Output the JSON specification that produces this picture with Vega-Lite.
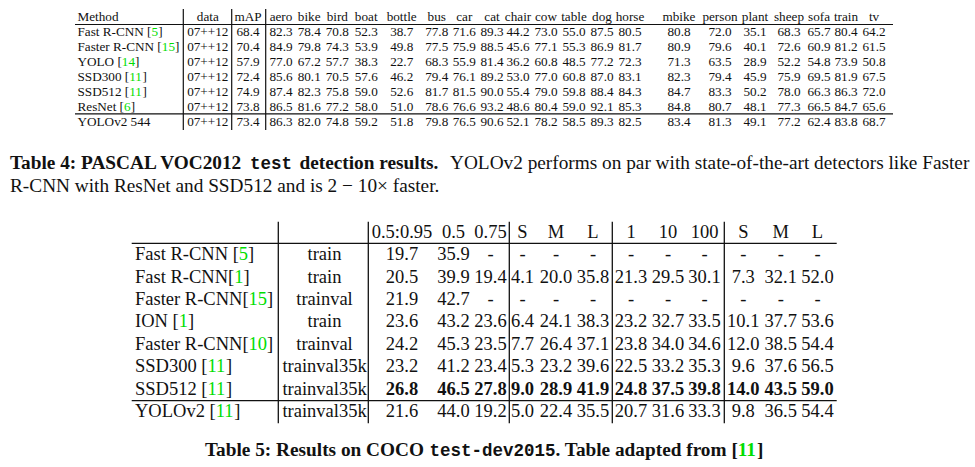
{
"$schema": "https://vega.github.io/schema/vega-lite/v6.json",
"width": 975, "height": 467, "padding": 0, "autosize": {"type": "none"},
"background": "white",
"config": {"view": {"stroke": null}},
"datasets": {
"t4": [
{"r":0,"c":0,"t":"Method"},{"r":0,"c":1,"t":"data"},{"r":0,"c":2,"t":"mAP"},{"r":0,"c":3,"t":"aero"},{"r":0,"c":4,"t":"bike"},{"r":0,"c":5,"t":"bird"},{"r":0,"c":6,"t":"boat"},{"r":0,"c":7,"t":"bottle"},{"r":0,"c":8,"t":"bus"},{"r":0,"c":9,"t":"car"},{"r":0,"c":10,"t":"cat"},{"r":0,"c":11,"t":"chair"},{"r":0,"c":12,"t":"cow"},{"r":0,"c":13,"t":"table"},{"r":0,"c":14,"t":"dog"},{"r":0,"c":15,"t":"horse"},{"r":0,"c":16,"t":"mbike"},{"r":0,"c":17,"t":"person"},{"r":0,"c":18,"t":"plant"},{"r":0,"c":19,"t":"sheep"},{"r":0,"c":20,"t":"sofa"},{"r":0,"c":21,"t":"train"},{"r":0,"c":22,"t":"tv"},
{"r":1,"c":0,"t":"Fast R-CNN [5]"},{"r":1,"c":1,"t":"07++12"},{"r":1,"c":2,"t":"68.4"},{"r":1,"c":3,"t":"82.3"},{"r":1,"c":4,"t":"78.4"},{"r":1,"c":5,"t":"70.8"},{"r":1,"c":6,"t":"52.3"},{"r":1,"c":7,"t":"38.7"},{"r":1,"c":8,"t":"77.8"},{"r":1,"c":9,"t":"71.6"},{"r":1,"c":10,"t":"89.3"},{"r":1,"c":11,"t":"44.2"},{"r":1,"c":12,"t":"73.0"},{"r":1,"c":13,"t":"55.0"},{"r":1,"c":14,"t":"87.5"},{"r":1,"c":15,"t":"80.5"},{"r":1,"c":16,"t":"80.8"},{"r":1,"c":17,"t":"72.0"},{"r":1,"c":18,"t":"35.1"},{"r":1,"c":19,"t":"68.3"},{"r":1,"c":20,"t":"65.7"},{"r":1,"c":21,"t":"80.4"},{"r":1,"c":22,"t":"64.2"},
{"r":2,"c":0,"t":"Faster R-CNN [15]"},{"r":2,"c":1,"t":"07++12"},{"r":2,"c":2,"t":"70.4"},{"r":2,"c":3,"t":"84.9"},{"r":2,"c":4,"t":"79.8"},{"r":2,"c":5,"t":"74.3"},{"r":2,"c":6,"t":"53.9"},{"r":2,"c":7,"t":"49.8"},{"r":2,"c":8,"t":"77.5"},{"r":2,"c":9,"t":"75.9"},{"r":2,"c":10,"t":"88.5"},{"r":2,"c":11,"t":"45.6"},{"r":2,"c":12,"t":"77.1"},{"r":2,"c":13,"t":"55.3"},{"r":2,"c":14,"t":"86.9"},{"r":2,"c":15,"t":"81.7"},{"r":2,"c":16,"t":"80.9"},{"r":2,"c":17,"t":"79.6"},{"r":2,"c":18,"t":"40.1"},{"r":2,"c":19,"t":"72.6"},{"r":2,"c":20,"t":"60.9"},{"r":2,"c":21,"t":"81.2"},{"r":2,"c":22,"t":"61.5"},
{"r":3,"c":0,"t":"YOLO [14]"},{"r":3,"c":1,"t":"07++12"},{"r":3,"c":2,"t":"57.9"},{"r":3,"c":3,"t":"77.0"},{"r":3,"c":4,"t":"67.2"},{"r":3,"c":5,"t":"57.7"},{"r":3,"c":6,"t":"38.3"},{"r":3,"c":7,"t":"22.7"},{"r":3,"c":8,"t":"68.3"},{"r":3,"c":9,"t":"55.9"},{"r":3,"c":10,"t":"81.4"},{"r":3,"c":11,"t":"36.2"},{"r":3,"c":12,"t":"60.8"},{"r":3,"c":13,"t":"48.5"},{"r":3,"c":14,"t":"77.2"},{"r":3,"c":15,"t":"72.3"},{"r":3,"c":16,"t":"71.3"},{"r":3,"c":17,"t":"63.5"},{"r":3,"c":18,"t":"28.9"},{"r":3,"c":19,"t":"52.2"},{"r":3,"c":20,"t":"54.8"},{"r":3,"c":21,"t":"73.9"},{"r":3,"c":22,"t":"50.8"},
{"r":4,"c":0,"t":"SSD300 [11]"},{"r":4,"c":1,"t":"07++12"},{"r":4,"c":2,"t":"72.4"},{"r":4,"c":3,"t":"85.6"},{"r":4,"c":4,"t":"80.1"},{"r":4,"c":5,"t":"70.5"},{"r":4,"c":6,"t":"57.6"},{"r":4,"c":7,"t":"46.2"},{"r":4,"c":8,"t":"79.4"},{"r":4,"c":9,"t":"76.1"},{"r":4,"c":10,"t":"89.2"},{"r":4,"c":11,"t":"53.0"},{"r":4,"c":12,"t":"77.0"},{"r":4,"c":13,"t":"60.8"},{"r":4,"c":14,"t":"87.0"},{"r":4,"c":15,"t":"83.1"},{"r":4,"c":16,"t":"82.3"},{"r":4,"c":17,"t":"79.4"},{"r":4,"c":18,"t":"45.9"},{"r":4,"c":19,"t":"75.9"},{"r":4,"c":20,"t":"69.5"},{"r":4,"c":21,"t":"81.9"},{"r":4,"c":22,"t":"67.5"},
{"r":5,"c":0,"t":"SSD512 [11]"},{"r":5,"c":1,"t":"07++12"},{"r":5,"c":2,"t":"74.9"},{"r":5,"c":3,"t":"87.4"},{"r":5,"c":4,"t":"82.3"},{"r":5,"c":5,"t":"75.8"},{"r":5,"c":6,"t":"59.0"},{"r":5,"c":7,"t":"52.6"},{"r":5,"c":8,"t":"81.7"},{"r":5,"c":9,"t":"81.5"},{"r":5,"c":10,"t":"90.0"},{"r":5,"c":11,"t":"55.4"},{"r":5,"c":12,"t":"79.0"},{"r":5,"c":13,"t":"59.8"},{"r":5,"c":14,"t":"88.4"},{"r":5,"c":15,"t":"84.3"},{"r":5,"c":16,"t":"84.7"},{"r":5,"c":17,"t":"83.3"},{"r":5,"c":18,"t":"50.2"},{"r":5,"c":19,"t":"78.0"},{"r":5,"c":20,"t":"66.3"},{"r":5,"c":21,"t":"86.3"},{"r":5,"c":22,"t":"72.0"},
{"r":6,"c":0,"t":"ResNet [6]"},{"r":6,"c":1,"t":"07++12"},{"r":6,"c":2,"t":"73.8"},{"r":6,"c":3,"t":"86.5"},{"r":6,"c":4,"t":"81.6"},{"r":6,"c":5,"t":"77.2"},{"r":6,"c":6,"t":"58.0"},{"r":6,"c":7,"t":"51.0"},{"r":6,"c":8,"t":"78.6"},{"r":6,"c":9,"t":"76.6"},{"r":6,"c":10,"t":"93.2"},{"r":6,"c":11,"t":"48.6"},{"r":6,"c":12,"t":"80.4"},{"r":6,"c":13,"t":"59.0"},{"r":6,"c":14,"t":"92.1"},{"r":6,"c":15,"t":"85.3"},{"r":6,"c":16,"t":"84.8"},{"r":6,"c":17,"t":"80.7"},{"r":6,"c":18,"t":"48.1"},{"r":6,"c":19,"t":"77.3"},{"r":6,"c":20,"t":"66.5"},{"r":6,"c":21,"t":"84.7"},{"r":6,"c":22,"t":"65.6"},
{"r":7,"c":0,"t":"YOLOv2 544"},{"r":7,"c":1,"t":"07++12"},{"r":7,"c":2,"t":"73.4"},{"r":7,"c":3,"t":"86.3"},{"r":7,"c":4,"t":"82.0"},{"r":7,"c":5,"t":"74.8"},{"r":7,"c":6,"t":"59.2"},{"r":7,"c":7,"t":"51.8"},{"r":7,"c":8,"t":"79.8"},{"r":7,"c":9,"t":"76.5"},{"r":7,"c":10,"t":"90.6"},{"r":7,"c":11,"t":"52.1"},{"r":7,"c":12,"t":"78.2"},{"r":7,"c":13,"t":"58.5"},{"r":7,"c":14,"t":"89.3"},{"r":7,"c":15,"t":"82.5"},{"r":7,"c":16,"t":"83.4"},{"r":7,"c":17,"t":"81.3"},{"r":7,"c":18,"t":"49.1"},{"r":7,"c":19,"t":"77.2"},{"r":7,"c":20,"t":"62.4"},{"r":7,"c":21,"t":"83.8"},{"r":7,"c":22,"t":"68.7"}
],
"t4rules": [
{"x":-0.5,"x2":22.5,"y":0.5,"y2":0.5},{"x":-0.5,"x2":22.5,"y":6.5,"y2":6.5},
{"x":0.5,"x2":0.5,"y":-0.5,"y2":7.5},{"x":1.5,"x2":1.5,"y":-0.5,"y2":7.5},{"x":2.5,"x2":2.5,"y":-0.5,"y2":7.5}
],
"t5": [
{"r":0,"c":2,"t":"0.5:0.95"},{"r":0,"c":3,"t":"0.5"},{"r":0,"c":4,"t":"0.75"},{"r":0,"c":5,"t":"S"},{"r":0,"c":6,"t":"M"},{"r":0,"c":7,"t":"L"},{"r":0,"c":8,"t":"1"},{"r":0,"c":9,"t":"10"},{"r":0,"c":10,"t":"100"},{"r":0,"c":11,"t":"S"},{"r":0,"c":12,"t":"M"},{"r":0,"c":13,"t":"L"},
{"r":1,"c":0,"t":"Fast R-CNN [5]"},{"r":1,"c":1,"t":"train"},{"r":1,"c":2,"t":"19.7"},{"r":1,"c":3,"t":"35.9"},{"r":1,"c":4,"t":"-"},{"r":1,"c":5,"t":"-"},{"r":1,"c":6,"t":"-"},{"r":1,"c":7,"t":"-"},{"r":1,"c":8,"t":"-"},{"r":1,"c":9,"t":"-"},{"r":1,"c":10,"t":"-"},{"r":1,"c":11,"t":"-"},{"r":1,"c":12,"t":"-"},{"r":1,"c":13,"t":"-"},
{"r":2,"c":0,"t":"Fast R-CNN[1]"},{"r":2,"c":1,"t":"train"},{"r":2,"c":2,"t":"20.5"},{"r":2,"c":3,"t":"39.9"},{"r":2,"c":4,"t":"19.4"},{"r":2,"c":5,"t":"4.1"},{"r":2,"c":6,"t":"20.0"},{"r":2,"c":7,"t":"35.8"},{"r":2,"c":8,"t":"21.3"},{"r":2,"c":9,"t":"29.5"},{"r":2,"c":10,"t":"30.1"},{"r":2,"c":11,"t":"7.3"},{"r":2,"c":12,"t":"32.1"},{"r":2,"c":13,"t":"52.0"},
{"r":3,"c":0,"t":"Faster R-CNN[15]"},{"r":3,"c":1,"t":"trainval"},{"r":3,"c":2,"t":"21.9"},{"r":3,"c":3,"t":"42.7"},{"r":3,"c":4,"t":"-"},{"r":3,"c":5,"t":"-"},{"r":3,"c":6,"t":"-"},{"r":3,"c":7,"t":"-"},{"r":3,"c":8,"t":"-"},{"r":3,"c":9,"t":"-"},{"r":3,"c":10,"t":"-"},{"r":3,"c":11,"t":"-"},{"r":3,"c":12,"t":"-"},{"r":3,"c":13,"t":"-"},
{"r":4,"c":0,"t":"ION [1]"},{"r":4,"c":1,"t":"train"},{"r":4,"c":2,"t":"23.6"},{"r":4,"c":3,"t":"43.2"},{"r":4,"c":4,"t":"23.6"},{"r":4,"c":5,"t":"6.4"},{"r":4,"c":6,"t":"24.1"},{"r":4,"c":7,"t":"38.3"},{"r":4,"c":8,"t":"23.2"},{"r":4,"c":9,"t":"32.7"},{"r":4,"c":10,"t":"33.5"},{"r":4,"c":11,"t":"10.1"},{"r":4,"c":12,"t":"37.7"},{"r":4,"c":13,"t":"53.6"},
{"r":5,"c":0,"t":"Faster R-CNN[10]"},{"r":5,"c":1,"t":"trainval"},{"r":5,"c":2,"t":"24.2"},{"r":5,"c":3,"t":"45.3"},{"r":5,"c":4,"t":"23.5"},{"r":5,"c":5,"t":"7.7"},{"r":5,"c":6,"t":"26.4"},{"r":5,"c":7,"t":"37.1"},{"r":5,"c":8,"t":"23.8"},{"r":5,"c":9,"t":"34.0"},{"r":5,"c":10,"t":"34.6"},{"r":5,"c":11,"t":"12.0"},{"r":5,"c":12,"t":"38.5"},{"r":5,"c":13,"t":"54.4"},
{"r":6,"c":0,"t":"SSD300 [11]"},{"r":6,"c":1,"t":"trainval35k"},{"r":6,"c":2,"t":"23.2"},{"r":6,"c":3,"t":"41.2"},{"r":6,"c":4,"t":"23.4"},{"r":6,"c":5,"t":"5.3"},{"r":6,"c":6,"t":"23.2"},{"r":6,"c":7,"t":"39.6"},{"r":6,"c":8,"t":"22.5"},{"r":6,"c":9,"t":"33.2"},{"r":6,"c":10,"t":"35.3"},{"r":6,"c":11,"t":"9.6"},{"r":6,"c":12,"t":"37.6"},{"r":6,"c":13,"t":"56.5"},
{"r":7,"c":0,"t":"SSD512 [11]"},{"r":7,"c":1,"t":"trainval35k"},{"r":7,"c":2,"t":"26.8","best":true},{"r":7,"c":3,"t":"46.5","best":true},{"r":7,"c":4,"t":"27.8","best":true},{"r":7,"c":5,"t":"9.0","best":true},{"r":7,"c":6,"t":"28.9","best":true},{"r":7,"c":7,"t":"41.9","best":true},{"r":7,"c":8,"t":"24.8","best":true},{"r":7,"c":9,"t":"37.5","best":true},{"r":7,"c":10,"t":"39.8","best":true},{"r":7,"c":11,"t":"14.0","best":true},{"r":7,"c":12,"t":"43.5","best":true},{"r":7,"c":13,"t":"59.0","best":true},
{"r":8,"c":0,"t":"YOLOv2 [11]"},{"r":8,"c":1,"t":"trainval35k"},{"r":8,"c":2,"t":"21.6"},{"r":8,"c":3,"t":"44.0"},{"r":8,"c":4,"t":"19.2"},{"r":8,"c":5,"t":"5.0"},{"r":8,"c":6,"t":"22.4"},{"r":8,"c":7,"t":"35.5"},{"r":8,"c":8,"t":"20.7"},{"r":8,"c":9,"t":"31.6"},{"r":8,"c":10,"t":"33.3"},{"r":8,"c":11,"t":"9.8"},{"r":8,"c":12,"t":"36.5"},{"r":8,"c":13,"t":"54.4"}
],
"t5rules": [
{"x":-0.5,"x2":13.5,"y":0.5,"y2":0.5},{"x":-0.5,"x2":13.5,"y":7.5,"y2":7.5},
{"x":0.5,"x2":0.5,"y":-0.5,"y2":8.5},{"x":1.5,"x2":1.5,"y":-0.5,"y2":8.5},{"x":4.5,"x2":4.5,"y":-0.5,"y2":8.5},{"x":7.5,"x2":7.5,"y":-0.5,"y2":8.5},{"x":10.5,"x2":10.5,"y":-0.5,"y2":8.5}
],
"cap": [
{"line":0,"seg":0,"part":"title","t":"Table 4: PASCAL VOC2012"},
{"line":0,"seg":1,"part":"code","t":"test"},
{"line":0,"seg":2,"part":"title","t":"detection results."},
{"line":0,"seg":3,"part":"body","t":"YOLOv2 performs on par with state-of-the-art detectors like Faster"},
{"line":1,"seg":4,"part":"body","t":"R-CNN with ResNet and SSD512 and is 2 − 10× faster."},
{"line":2,"seg":5,"part":"title","t":"Table 5: Results on COCO"},
{"line":2,"seg":6,"part":"code","t":"test-dev2015"},
{"line":2,"seg":7,"part":"title","t":". Table adapted from [11]"}
]
},
"resolve": {"scale": {"x": "independent", "y": "independent"}},
"layer": [
{
"data": {"name": "t4"},
"layer": [
{"data": {"name": "t4rules"}, "mark": {"type": "rule", "color": "#111", "strokeWidth": 1.2},
 "encoding": {
 "x": {"field": "x", "type": "quantitative", "axis": null, "scale": {"domain": [-0.5,0,0.5,1,1.5,2,2.5,3,4,5,6,7,8,9,10,11,12,13,14,15,16,17,18,19,20,21,22,22.5], "range": [75,77.5,183.3,207.8,231.7,248,265.7,281,309.2,337.3,366.2,401.7,436.7,464.3,492,518,546,574,602,630,679,720,755,789,819,846,874,893], "nice": false, "zero": false}},
 "x2": {"field": "x2"},
 "y": {"field": "y", "type": "quantitative", "axis": null, "scale": {"domain": [-0.5,0,0.5,1,6,6.5,7,7.5], "range": [9,20.5,24.5,35.6,110.8,113.8,125.6,130], "nice": false, "zero": false}},
 "y2": {"field": "y2"}}},
{"transform": [{"filter": "datum.c == 0 && indexof(datum.t, '[') < 0"}],
 "mark": {"type": "text", "align": "left", "baseline": "alphabetic", "font": "Liberation Serif", "fontSize": 13.2, "color": "#111"},
 "encoding": {
 "x": {"field": "c", "type": "quantitative", "axis": null, "scale": {"domain": [-0.5,0,0.5,1,1.5,2,2.5,3,4,5,6,7,8,9,10,11,12,13,14,15,16,17,18,19,20,21,22,22.5], "range": [75,77.5,183.3,207.8,231.7,248,265.7,281,309.2,337.3,366.2,401.7,436.7,464.3,492,518,546,574,602,630,679,720,755,789,819,846,874,893], "nice": false, "zero": false}},
 "y": {"field": "r", "type": "quantitative", "axis": null, "scale": {"domain": [-0.5,0,0.5,1,6,6.5,7,7.5], "range": [9,20.5,24.5,35.6,110.8,113.8,125.6,130], "nice": false, "zero": false}},
 "text": {"field": "t"}}},
{"transform": [{"filter": "datum.c == 0 && indexof(datum.t, '[') >= 0"}, {"calculate": "slice(datum.t, 0, indexof(datum.t, '[') + 1)", "as": "pre"}],
 "mark": {"type": "text", "align": "left", "baseline": "alphabetic", "font": "Liberation Serif", "fontSize": 13.2, "color": "#111"},
 "encoding": {
 "x": {"field": "c", "type": "quantitative", "axis": null, "scale": {"domain": [-0.5,0,0.5,1,1.5,2,2.5,3,4,5,6,7,8,9,10,11,12,13,14,15,16,17,18,19,20,21,22,22.5], "range": [75,77.5,183.3,207.8,231.7,248,265.7,281,309.2,337.3,366.2,401.7,436.7,464.3,492,518,546,574,602,630,679,720,755,789,819,846,874,893], "nice": false, "zero": false}},
 "y": {"field": "r", "type": "quantitative", "axis": null, "scale": {"domain": [-0.5,0,0.5,1,6,6.5,7,7.5], "range": [9,20.5,24.5,35.6,110.8,113.8,125.6,130], "nice": false, "zero": false}},
 "text": {"field": "pre"}}},
{"transform": [{"filter": "datum.c == 0 && indexof(datum.t, '[') >= 0"}, {"calculate": "slice(datum.t, 0, indexof(datum.t, '[') + 1)", "as": "pre"}, {"calculate": "slice(datum.t, indexof(datum.t, '[') + 1, length(datum.t) - 1)", "as": "ref"}, {"calculate": "split(datum.pre, '')", "as": "chars"}, {"flatten": ["chars"], "as": ["ch"]}, {"calculate": "[250,333,333,333,250,278,500,500,500,500,500,500,500,500,500,500,722,667,667,722,611,556,722,722,333,389,722,611,889,722,722,556,722,667,556,611,722,722,944,722,722,611,444,500,444,500,444,333,500,500,278,278,500,278,778,500,500,500,500,333,389,278,500,500,722,500,500,444][indexof(' -[].:0123456789ABCDEFGHIJKLMNOPQRSTUVWXYZabcdefghijklmnopqrstuvwxyz', datum.ch)]", "as": "w"}, {"aggregate": [{"op": "sum", "field": "w", "as": "pw"}], "groupby": ["r", "c", "ref"]}],
 "mark": {"type": "text", "align": "left", "baseline": "alphabetic", "font": "Liberation Serif", "fontSize": 13.2, "color": "#00dd00", "dx": {"expr": "datum.pw * 13.2 / 1000"}},
 "encoding": {
 "x": {"field": "c", "type": "quantitative", "axis": null, "scale": {"domain": [-0.5,0,0.5,1,1.5,2,2.5,3,4,5,6,7,8,9,10,11,12,13,14,15,16,17,18,19,20,21,22,22.5], "range": [75,77.5,183.3,207.8,231.7,248,265.7,281,309.2,337.3,366.2,401.7,436.7,464.3,492,518,546,574,602,630,679,720,755,789,819,846,874,893], "nice": false, "zero": false}},
 "y": {"field": "r", "type": "quantitative", "axis": null, "scale": {"domain": [-0.5,0,0.5,1,6,6.5,7,7.5], "range": [9,20.5,24.5,35.6,110.8,113.8,125.6,130], "nice": false, "zero": false}},
 "text": {"field": "ref"}}},
{"transform": [{"filter": "datum.c == 0 && indexof(datum.t, '[') >= 0"}, {"calculate": "slice(datum.t, 0, indexof(datum.t, '[') + 1)", "as": "pre"}, {"calculate": "slice(datum.t, indexof(datum.t, '[') + 1, length(datum.t) - 1)", "as": "ref"}, {"calculate": "split(datum.pre, '')", "as": "chars"}, {"flatten": ["chars"], "as": ["ch"]}, {"calculate": "[250,333,333,333,250,278,500,500,500,500,500,500,500,500,500,500,722,667,667,722,611,556,722,722,333,389,722,611,889,722,722,556,722,667,556,611,722,722,944,722,722,611,444,500,444,500,444,333,500,500,278,278,500,278,778,500,500,500,500,333,389,278,500,500,722,500,500,444][indexof(' -[].:0123456789ABCDEFGHIJKLMNOPQRSTUVWXYZabcdefghijklmnopqrstuvwxyz', datum.ch)]", "as": "w"}, {"aggregate": [{"op": "sum", "field": "w", "as": "pw"}], "groupby": ["r", "c", "ref"]}],
 "mark": {"type": "text", "align": "left", "baseline": "alphabetic", "font": "Liberation Serif", "fontSize": 13.2, "color": "#111", "dx": {"expr": "(datum.pw + 500 * length(datum.ref)) * 13.2 / 1000"}},
 "encoding": {
 "x": {"field": "c", "type": "quantitative", "axis": null, "scale": {"domain": [-0.5,0,0.5,1,1.5,2,2.5,3,4,5,6,7,8,9,10,11,12,13,14,15,16,17,18,19,20,21,22,22.5], "range": [75,77.5,183.3,207.8,231.7,248,265.7,281,309.2,337.3,366.2,401.7,436.7,464.3,492,518,546,574,602,630,679,720,755,789,819,846,874,893], "nice": false, "zero": false}},
 "y": {"field": "r", "type": "quantitative", "axis": null, "scale": {"domain": [-0.5,0,0.5,1,6,6.5,7,7.5], "range": [9,20.5,24.5,35.6,110.8,113.8,125.6,130], "nice": false, "zero": false}},
 "text": {"value": "]"}}},
{"transform": [{"filter": "datum.c > 0"}],
 "mark": {"type": "text", "align": "center", "baseline": "alphabetic", "font": "Liberation Serif", "fontSize": 13.2, "color": "#111"},
 "encoding": {
 "x": {"field": "c", "type": "quantitative", "axis": null, "scale": {"domain": [-0.5,0,0.5,1,1.5,2,2.5,3,4,5,6,7,8,9,10,11,12,13,14,15,16,17,18,19,20,21,22,22.5], "range": [75,77.5,183.3,207.8,231.7,248,265.7,281,309.2,337.3,366.2,401.7,436.7,464.3,492,518,546,574,602,630,679,720,755,789,819,846,874,893], "nice": false, "zero": false}},
 "y": {"field": "r", "type": "quantitative", "axis": null, "scale": {"domain": [-0.5,0,0.5,1,6,6.5,7,7.5], "range": [9,20.5,24.5,35.6,110.8,113.8,125.6,130], "nice": false, "zero": false}},
 "text": {"field": "t"}}}
]
},
{
"data": {"name": "t5"},
"layer": [
{"data": {"name": "t5rules"}, "mark": {"type": "rule", "color": "#111", "strokeWidth": 1.3},
 "encoding": {
 "x": {"field": "x", "type": "quantitative", "axis": null, "scale": {"domain": [-0.5,0,0.5,1,1.5,2,3,4,4.5,5,6,7,7.5,8,9,10,10.5,11,12,13,13.5], "range": [131.7,135,278.3,324.5,368.3,402,453.5,490.5,509.3,522.5,556,593,612.3,631,668,704.5,724.3,743.3,780.8,817.5,836.7], "nice": false, "zero": false}},
 "x2": {"field": "x2"},
 "y": {"field": "y", "type": "quantitative", "axis": null, "scale": {"domain": [-0.5,0,0.5,1,7,7.5,8,8.5], "range": [221.7,238,243.3,260.4,394.5,400.7,416.8,423.3], "nice": false, "zero": false}},
 "y2": {"field": "y2"}}},
{"transform": [{"filter": "datum.c == 0 && indexof(datum.t, '[') >= 0"}, {"calculate": "slice(datum.t, 0, indexof(datum.t, '[') + 1)", "as": "pre"}],
 "mark": {"type": "text", "align": "left", "baseline": "alphabetic", "font": "Liberation Serif", "fontSize": 18.5, "color": "#111"},
 "encoding": {
 "x": {"field": "c", "type": "quantitative", "axis": null, "scale": {"domain": [-0.5,0,0.5,1,1.5,2,3,4,4.5,5,6,7,7.5,8,9,10,10.5,11,12,13,13.5], "range": [131.7,135,278.3,324.5,368.3,402,453.5,490.5,509.3,522.5,556,593,612.3,631,668,704.5,724.3,743.3,780.8,817.5,836.7], "nice": false, "zero": false}},
 "y": {"field": "r", "type": "quantitative", "axis": null, "scale": {"domain": [-0.5,0,0.5,1,7,7.5,8,8.5], "range": [221.7,238,243.3,260.4,394.5,400.7,416.8,423.3], "nice": false, "zero": false}},
 "text": {"field": "pre"}}},
{"transform": [{"filter": "datum.c == 0 && indexof(datum.t, '[') >= 0"}, {"calculate": "slice(datum.t, 0, indexof(datum.t, '[') + 1)", "as": "pre"}, {"calculate": "slice(datum.t, indexof(datum.t, '[') + 1, length(datum.t) - 1)", "as": "ref"}, {"calculate": "split(datum.pre, '')", "as": "chars"}, {"flatten": ["chars"], "as": ["ch"]}, {"calculate": "[250,333,333,333,250,278,500,500,500,500,500,500,500,500,500,500,722,667,667,722,611,556,722,722,333,389,722,611,889,722,722,556,722,667,556,611,722,722,944,722,722,611,444,500,444,500,444,333,500,500,278,278,500,278,778,500,500,500,500,333,389,278,500,500,722,500,500,444][indexof(' -[].:0123456789ABCDEFGHIJKLMNOPQRSTUVWXYZabcdefghijklmnopqrstuvwxyz', datum.ch)]", "as": "w"}, {"aggregate": [{"op": "sum", "field": "w", "as": "pw"}], "groupby": ["r", "c", "ref"]}],
 "mark": {"type": "text", "align": "left", "baseline": "alphabetic", "font": "Liberation Serif", "fontSize": 18.5, "color": "#00dd00", "dx": {"expr": "datum.pw * 18.5 / 1000"}},
 "encoding": {
 "x": {"field": "c", "type": "quantitative", "axis": null, "scale": {"domain": [-0.5,0,0.5,1,1.5,2,3,4,4.5,5,6,7,7.5,8,9,10,10.5,11,12,13,13.5], "range": [131.7,135,278.3,324.5,368.3,402,453.5,490.5,509.3,522.5,556,593,612.3,631,668,704.5,724.3,743.3,780.8,817.5,836.7], "nice": false, "zero": false}},
 "y": {"field": "r", "type": "quantitative", "axis": null, "scale": {"domain": [-0.5,0,0.5,1,7,7.5,8,8.5], "range": [221.7,238,243.3,260.4,394.5,400.7,416.8,423.3], "nice": false, "zero": false}},
 "text": {"field": "ref"}}},
{"transform": [{"filter": "datum.c == 0 && indexof(datum.t, '[') >= 0"}, {"calculate": "slice(datum.t, 0, indexof(datum.t, '[') + 1)", "as": "pre"}, {"calculate": "slice(datum.t, indexof(datum.t, '[') + 1, length(datum.t) - 1)", "as": "ref"}, {"calculate": "split(datum.pre, '')", "as": "chars"}, {"flatten": ["chars"], "as": ["ch"]}, {"calculate": "[250,333,333,333,250,278,500,500,500,500,500,500,500,500,500,500,722,667,667,722,611,556,722,722,333,389,722,611,889,722,722,556,722,667,556,611,722,722,944,722,722,611,444,500,444,500,444,333,500,500,278,278,500,278,778,500,500,500,500,333,389,278,500,500,722,500,500,444][indexof(' -[].:0123456789ABCDEFGHIJKLMNOPQRSTUVWXYZabcdefghijklmnopqrstuvwxyz', datum.ch)]", "as": "w"}, {"aggregate": [{"op": "sum", "field": "w", "as": "pw"}], "groupby": ["r", "c", "ref"]}],
 "mark": {"type": "text", "align": "left", "baseline": "alphabetic", "font": "Liberation Serif", "fontSize": 18.5, "color": "#111", "dx": {"expr": "(datum.pw + 500 * length(datum.ref)) * 18.5 / 1000"}},
 "encoding": {
 "x": {"field": "c", "type": "quantitative", "axis": null, "scale": {"domain": [-0.5,0,0.5,1,1.5,2,3,4,4.5,5,6,7,7.5,8,9,10,10.5,11,12,13,13.5], "range": [131.7,135,278.3,324.5,368.3,402,453.5,490.5,509.3,522.5,556,593,612.3,631,668,704.5,724.3,743.3,780.8,817.5,836.7], "nice": false, "zero": false}},
 "y": {"field": "r", "type": "quantitative", "axis": null, "scale": {"domain": [-0.5,0,0.5,1,7,7.5,8,8.5], "range": [221.7,238,243.3,260.4,394.5,400.7,416.8,423.3], "nice": false, "zero": false}},
 "text": {"value": "]"}}},
{"transform": [{"filter": "datum.c > 0 && !datum.best"}],
 "mark": {"type": "text", "align": "center", "baseline": "alphabetic", "font": "Liberation Serif", "fontSize": 18.5, "color": "#111"},
 "encoding": {
 "x": {"field": "c", "type": "quantitative", "axis": null, "scale": {"domain": [-0.5,0,0.5,1,1.5,2,3,4,4.5,5,6,7,7.5,8,9,10,10.5,11,12,13,13.5], "range": [131.7,135,278.3,324.5,368.3,402,453.5,490.5,509.3,522.5,556,593,612.3,631,668,704.5,724.3,743.3,780.8,817.5,836.7], "nice": false, "zero": false}},
 "y": {"field": "r", "type": "quantitative", "axis": null, "scale": {"domain": [-0.5,0,0.5,1,7,7.5,8,8.5], "range": [221.7,238,243.3,260.4,394.5,400.7,416.8,423.3], "nice": false, "zero": false}},
 "text": {"field": "t"}}},
{"transform": [{"filter": "datum.best"}],
 "mark": {"type": "text", "align": "center", "baseline": "alphabetic", "font": "Liberation Serif", "fontWeight": "bold", "fontSize": 18.5, "color": "#111"},
 "encoding": {
 "x": {"field": "c", "type": "quantitative", "axis": null, "scale": {"domain": [-0.5,0,0.5,1,1.5,2,3,4,4.5,5,6,7,7.5,8,9,10,10.5,11,12,13,13.5], "range": [131.7,135,278.3,324.5,368.3,402,453.5,490.5,509.3,522.5,556,593,612.3,631,668,704.5,724.3,743.3,780.8,817.5,836.7], "nice": false, "zero": false}},
 "y": {"field": "r", "type": "quantitative", "axis": null, "scale": {"domain": [-0.5,0,0.5,1,7,7.5,8,8.5], "range": [221.7,238,243.3,260.4,394.5,400.7,416.8,423.3], "nice": false, "zero": false}},
 "text": {"field": "t"}}}
]
},
{
"data": {"name": "cap"},
"layer": [
{"transform": [{"filter": "datum.part == 'title' && indexof(datum.t, '[') < 0"}],
 "mark": {"type": "text", "align": "left", "baseline": "alphabetic", "font": "Liberation Serif", "fontWeight": "bold", "fontSize": 19.3, "color": "#111"},
 "encoding": {
 "x": {"field": "seg", "type": "quantitative", "axis": null, "scale": {"domain": [0,1,2,3,4,5,6,7], "range": [10,250,299.5,450,10,205,429.5,555.5], "nice": false, "zero": false}},
 "y": {"field": "line", "type": "quantitative", "axis": null, "scale": {"domain": [0,1,2], "range": [169,192,456], "nice": false, "zero": false}},
 "text": {"field": "t"}}},
{"transform": [{"filter": "datum.part == 'title' && indexof(datum.t, '[') >= 0"}, {"calculate": "slice(datum.t, 0, indexof(datum.t, '[') + 1)", "as": "pre"}],
 "mark": {"type": "text", "align": "left", "baseline": "alphabetic", "font": "Liberation Serif", "fontWeight": "bold", "fontSize": 19.3, "color": "#111"},
 "encoding": {
 "x": {"field": "seg", "type": "quantitative", "axis": null, "scale": {"domain": [0,1,2,3,4,5,6,7], "range": [10,250,299.5,450,10,205,429.5,555.5], "nice": false, "zero": false}},
 "y": {"field": "line", "type": "quantitative", "axis": null, "scale": {"domain": [0,1,2], "range": [169,192,456], "nice": false, "zero": false}},
 "text": {"field": "pre"}}},
{"transform": [{"filter": "datum.part == 'title' && indexof(datum.t, '[') >= 0"}, {"calculate": "slice(datum.t, 0, indexof(datum.t, '[') + 1)", "as": "pre"}, {"calculate": "slice(datum.t, indexof(datum.t, '[') + 1, length(datum.t) - 1)", "as": "ref"}, {"calculate": "split(datum.pre, '')", "as": "chars"}, {"flatten": ["chars"], "as": ["ch"]}, {"calculate": "[250,333,333,333,250,333,500,500,500,500,500,500,500,500,500,500,722,667,722,722,667,611,778,778,389,500,778,667,944,722,778,611,778,722,556,667,722,722,1000,722,722,667,500,556,444,556,444,333,500,556,278,333,556,278,833,556,500,556,556,444,389,333,556,500,722,500,500,444][indexof(' -[].:0123456789ABCDEFGHIJKLMNOPQRSTUVWXYZabcdefghijklmnopqrstuvwxyz', datum.ch)]", "as": "w"}, {"aggregate": [{"op": "sum", "field": "w", "as": "pw"}], "groupby": ["line", "seg", "ref"]}],
 "mark": {"type": "text", "align": "left", "baseline": "alphabetic", "font": "Liberation Serif", "fontWeight": "bold", "fontSize": 19.3, "color": "#00dd00", "dx": {"expr": "datum.pw * 19.3 / 1000 - 2.8"}},
 "encoding": {
 "x": {"field": "seg", "type": "quantitative", "axis": null, "scale": {"domain": [0,1,2,3,4,5,6,7], "range": [10,250,299.5,450,10,205,429.5,555.5], "nice": false, "zero": false}},
 "y": {"field": "line", "type": "quantitative", "axis": null, "scale": {"domain": [0,1,2], "range": [169,192,456], "nice": false, "zero": false}},
 "text": {"field": "ref"}}},
{"transform": [{"filter": "datum.part == 'title' && indexof(datum.t, '[') >= 0"}, {"calculate": "slice(datum.t, 0, indexof(datum.t, '[') + 1)", "as": "pre"}, {"calculate": "slice(datum.t, indexof(datum.t, '[') + 1, length(datum.t) - 1)", "as": "ref"}, {"calculate": "split(datum.pre, '')", "as": "chars"}, {"flatten": ["chars"], "as": ["ch"]}, {"calculate": "[250,333,333,333,250,333,500,500,500,500,500,500,500,500,500,500,722,667,722,722,667,611,778,778,389,500,778,667,944,722,778,611,778,722,556,667,722,722,1000,722,722,667,500,556,444,556,444,333,500,556,278,333,556,278,833,556,500,556,556,444,389,333,556,500,722,500,500,444][indexof(' -[].:0123456789ABCDEFGHIJKLMNOPQRSTUVWXYZabcdefghijklmnopqrstuvwxyz', datum.ch)]", "as": "w"}, {"aggregate": [{"op": "sum", "field": "w", "as": "pw"}], "groupby": ["line", "seg", "ref"]}],
 "mark": {"type": "text", "align": "left", "baseline": "alphabetic", "font": "Liberation Serif", "fontWeight": "bold", "fontSize": 19.3, "color": "#111", "dx": {"expr": "(datum.pw + 500 * length(datum.ref)) * 19.3 / 1000 - 2.8"}},
 "encoding": {
 "x": {"field": "seg", "type": "quantitative", "axis": null, "scale": {"domain": [0,1,2,3,4,5,6,7], "range": [10,250,299.5,450,10,205,429.5,555.5], "nice": false, "zero": false}},
 "y": {"field": "line", "type": "quantitative", "axis": null, "scale": {"domain": [0,1,2], "range": [169,192,456], "nice": false, "zero": false}},
 "text": {"value": "]"}}},
{"transform": [{"filter": "datum.part == 'code'"}],
 "mark": {"type": "text", "align": "left", "baseline": "alphabetic", "font": "Liberation Mono", "fontWeight": "bold", "fontSize": 17.5, "color": "#111"},
 "encoding": {
 "x": {"field": "seg", "type": "quantitative", "axis": null, "scale": {"domain": [0,1,2,3,4,5,6,7], "range": [10,250,299.5,450,10,205,429.5,555.5], "nice": false, "zero": false}},
 "y": {"field": "line", "type": "quantitative", "axis": null, "scale": {"domain": [0,1,2], "range": [169,192,456], "nice": false, "zero": false}},
 "text": {"field": "t"}}},
{"transform": [{"filter": "datum.part == 'body'"}],
 "mark": {"type": "text", "align": "left", "baseline": "alphabetic", "font": "Liberation Serif", "fontSize": 19.3, "color": "#111"},
 "encoding": {
 "x": {"field": "seg", "type": "quantitative", "axis": null, "scale": {"domain": [0,1,2,3,4,5,6,7], "range": [10,250,299.5,450,10,205,429.5,555.5], "nice": false, "zero": false}},
 "y": {"field": "line", "type": "quantitative", "axis": null, "scale": {"domain": [0,1,2], "range": [169,192,456], "nice": false, "zero": false}},
 "text": {"field": "t"}}}
]
}
]
}
